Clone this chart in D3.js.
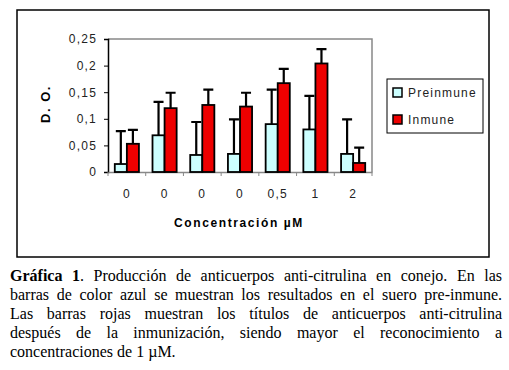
<!DOCTYPE html>
<html>
<head>
<meta charset="utf-8">
<script src="https://cdn.jsdelivr.net/npm/d3@7"></script>
<style>
  body { margin: 0; background: #fff; }
  svg { display: block; }
</style>
</head>
<body>
<svg id="chart"></svg>
<script>
// values
const concentrations = ["0", "0", "0", "0", "0,5", "1", "2"];
const seriesNames = ["Preinmune", "Inmune"];
const preinmune = [0.015, 0.069, 0.032, 0.034, 0.090, 0.080, 0.034];
const preinmuneErr = [0.062, 0.063, 0.062, 0.065, 0.065, 0.063, 0.065];
const inmune = [0.053, 0.120, 0.126, 0.123, 0.167, 0.204, 0.017];
const inmuneErr = [0.026, 0.029, 0.029, 0.026, 0.027, 0.027, 0.029];
const yTicks = [0, 0.05, 0.1, 0.15, 0.2, 0.25];
const yTickLabels = ["0", "0,05", "0,1", "0,15", "0,2", "0,25"];
const captionLines = [
  "Producción de anticuerpos anti-citrulina en conejo. En las",
  "barras de color azul se muestran los resultados en el suero pre-inmune.",
  "Las barras rojas muestran los títulos de anticuerpos anti-citrulina",
  "después de la inmunización, siendo mayor el reconocimiento a",
  "concentraciones de 1 µM."
];

const width = 509, height = 370;
const colors = ["#ccffff", "#ee0000"];
const plot = { left: 108, right: 372, top: 39, bottom: 172 };

const svg = d3.select("#chart").attr("width", width).attr("height", height);

// outer frame
svg.append("rect")
  .attr("x", 17).attr("y", 10).attr("width", 472).attr("height", 247)
  .attr("fill", "none").attr("stroke", "#000").attr("stroke-width", 1.5);

const x0 = d3.scaleBand()
  .domain(d3.range(concentrations.length))
  .range([plot.left, plot.right]);
const x1 = d3.scaleBand()
  .domain(seriesNames)
  .range([x0.bandwidth() * 0.18, x0.bandwidth() * 0.82]);
const y = d3.scaleLinear().domain([0, 0.25]).range([plot.bottom, plot.top]);

// plot box: gray top and right
svg.append("path")
  .attr("d", `M${plot.left},${plot.top}H${plot.right}V${plot.bottom}`)
  .attr("fill", "none").attr("stroke", "#888").attr("stroke-width", 1.5);

const font = "Arial, 'Liberation Sans', sans-serif";

// y axis
const yAxis = svg.append("g")
  .attr("transform", `translate(${plot.left},0)`)
  .call(d3.axisLeft(y).tickValues(yTicks)
    .tickFormat((d, i) => yTickLabels[i]).tickSize(4).tickPadding(7));
yAxis.select(".domain").attr("stroke", "#000").attr("stroke-width", 1.5);
yAxis.selectAll(".tick line").attr("stroke", "#000");
yAxis.selectAll("text")
  .attr("font-family", font).attr("font-size", 12)
  .attr("letter-spacing", "1.2px").attr("fill", "#222");

// x axis
const xAxis = svg.append("g")
  .attr("transform", `translate(0,${plot.bottom})`)
  .call(d3.axisBottom(x0).tickFormat(i => concentrations[i]).tickSize(0).tickPadding(17));
xAxis.select(".domain").attr("stroke", "#888").attr("stroke-width", 1.5);
xAxis.selectAll("text")
  .attr("font-family", font).attr("font-size", 12)
  .attr("letter-spacing", "1.2px").attr("fill", "#222");
// tick marks on category boundaries
xAxis.selectAll(".sep")
  .data(d3.range(concentrations.length + 1))
  .join("line")
  .attr("class", "sep")
  .attr("x1", i => plot.left + i * x0.bandwidth())
  .attr("x2", i => plot.left + i * x0.bandwidth())
  .attr("y1", 0).attr("y2", 4)
  .attr("stroke", "#888");

// bars
const rows = concentrations.map((c, i) => ({
  i,
  vals: [
    { s: seriesNames[0], v: preinmune[i], e: preinmuneErr[i], c: colors[0] },
    { s: seriesNames[1], v: inmune[i], e: inmuneErr[i], c: colors[1] }
  ]
}));

const groups = svg.append("g").selectAll("g")
  .data(rows).join("g")
  .attr("transform", d => `translate(${x0(d.i)},0)`);

// error bars (upward only)
groups.selectAll(".err").data(d => d.vals).join("path")
  .attr("class", "err")
  .attr("d", d => {
    const cx = x1(d.s) + x1.bandwidth() / 2;
    return `M${cx},${y(d.v)}V${y(d.v + d.e)}M${cx - 5},${y(d.v + d.e)}H${cx + 5}`;
  })
  .attr("fill", "none").attr("stroke", "#000").attr("stroke-width", 2.2);

groups.selectAll("rect").data(d => d.vals).join("rect")
  .attr("x", d => x1(d.s))
  .attr("y", d => y(d.v))
  .attr("width", x1.bandwidth())
  .attr("height", d => y(0) - y(d.v))
  .attr("fill", d => d.c)
  .attr("stroke", "#000").attr("stroke-width", 1.8);

// axis titles
svg.append("text")
  .attr("transform", "translate(50,104) rotate(-90)")
  .attr("text-anchor", "middle")
  .attr("font-family", font).attr("font-size", 13).attr("font-weight", "bold")
  .attr("letter-spacing", "1.5px")
  .text("D. O.");

svg.append("text")
  .attr("x", 239).attr("y", 227)
  .attr("text-anchor", "middle")
  .attr("font-family", font).attr("font-size", 12).attr("font-weight", "bold")
  .attr("letter-spacing", "1.6px")
  .text("Concentración µM");

// legend
const legend = svg.append("g").attr("transform", "translate(387,79)");
legend.append("rect")
  .attr("width", 96).attr("height", 54)
  .attr("fill", "#fff").attr("stroke", "#000").attr("stroke-width", 1);
const li = legend.selectAll(".item").data(seriesNames).join("g")
  .attr("class", "item")
  .attr("transform", (d, i) => `translate(6,${9 + i * 27})`);
li.append("rect")
  .attr("width", 9).attr("height", 9)
  .attr("fill", (d, i) => colors[i])
  .attr("stroke", "#000").attr("stroke-width", 1.5);
li.append("text")
  .attr("x", 15).attr("y", 9)
  .attr("font-family", font).attr("font-size", 12)
  .attr("letter-spacing", "1.2px").attr("fill", "#222")
  .text(d => d);

// caption, justified lines
const capLeft = 10, capRight = 502;
const cap = svg.append("g")
  .attr("font-family", "'Liberation Serif', 'Times New Roman', serif")
  .attr("font-size", 16).attr("fill", "#000");
captionLines.forEach((line, i) => {
  const t = cap.append("text")
    .attr("x", capLeft).attr("y", 281 + i * 19)
    .attr("xml:space", "preserve");
  if (i === 0) {
    t.append("tspan").attr("font-weight", "bold").text("Gráfica 1");
    t.append("tspan").text(". " + line);
  } else {
    t.text(line);
  }
  if (i < captionLines.length - 1) {
    const full = i === 0 ? "Gráfica 1. " + line : line;
    const spaces = (full.match(/ /g) || []).length;
    const w = t.node().getComputedTextLength();
    t.attr("word-spacing", ((capRight - capLeft) - w) / spaces + "px");
  }
});
</script>
</body>
</html>
